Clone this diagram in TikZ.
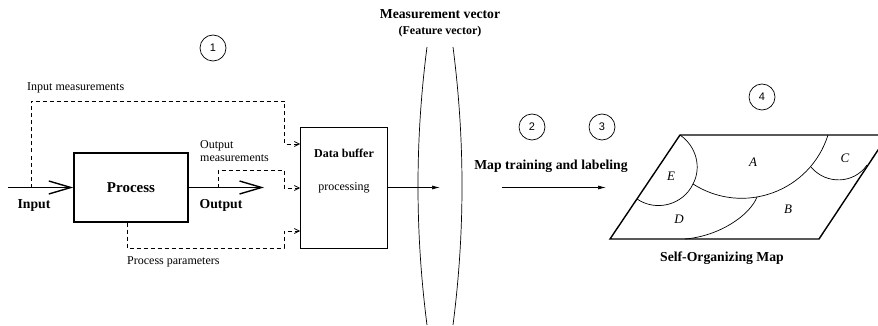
\documentclass[tikz,border=0pt]{standalone}
\usepackage{fontspec}
\setmainfont{Liberation Serif}
\setsansfont{Liberation Sans}
\usepackage{tikz}
\usetikzlibrary{arrows.meta, positioning}

\begin{document}
\begin{tikzpicture}[
    x=1pt, y=-1pt,
    proc node/.style={rectangle,draw,line width=1.4pt,minimum width=114pt,minimum height=69pt,font=\fontsize{15}{17}\selectfont\bfseries},
    buffer node/.style={rectangle,draw,line width=0.9pt,minimum width=87pt,minimum height=121pt},
    stage node/.style={circle,draw,line width=0.7pt,minimum size=26pt,inner sep=0pt,font=\sffamily\fontsize{11}{13}\selectfont},
    text node/.style={inner sep=0pt,font=\fontsize{12}{13}\selectfont},
    bold text/.style={inner sep=0pt,font=\fontsize{12}{13}\selectfont\bfseries},
    title node/.style={inner sep=0pt,font=\fontsize{13.7}{15}\selectfont\bfseries},
    region node/.style={inner sep=0pt,font=\fontsize{13}{15}\selectfont\itshape},
    flow arrow/.style={-{Straight Barb[length=22pt,width=13pt]},line width=1.4pt},
    meas arrow/.style={dash pattern=on 4pt off 3pt,-{Straight Barb[length=5pt,width=5pt]},line width=0.7pt},
    arrow/.style={-{Latex[length=8pt,width=4pt]},line width=0.7pt},
    map edge/.style={line width=1.4pt},
    map line/.style={line width=0.7pt}
]
\useasboundingbox (0,0) rectangle (878,326);

% process and buffer
\node[proc node] (process) at (131,187.5) {Process};
\node[buffer node] (buffer) at (344,187.5) {};
\node[bold text] (buftitle) at (344,153) {Data buffer};
\node[text node] (bufproc) at (344,188) {processing};

\coordinate (input) at (8,187.5);
\coordinate (output) at (264,187.5);
\draw[flow arrow] (input) -- (process);
\draw[flow arrow] (process) -- (output);
\node[title node] (inlabel) at (34,205) {Input};
\node[title node] (outlabel) at (221,205) {Output};

% measurements
\coordinate (inmeas) at (31,187.5);
\coordinate (outmeas) at (218,187.5);
\coordinate (procpar) at ([xshift=-4pt]process.south);
\draw[meas arrow] (inmeas) |- (284,101) |- (buffer.west |- 0,144);
\draw[meas arrow] (outmeas) |- (284,170) |- (buffer.west |- 0,188);
\draw[meas arrow] (procpar) |- (284,248) |- (buffer.west |- 0,231);
\node[text node,anchor=west] (inmeaslabel) at (27,88) {Input measurements};
\node[text node,anchor=west,align=left] (outmeaslabel) at (200,151.5) {Output\\measurements};
\node[text node,anchor=west] (parlabel) at (127,262) {Process parameters};

% feature vector
\draw[map line] (427,47) .. controls (415,140) and (415,232) .. (427,325);
\draw[map line] (453,47) .. controls (465,140) and (465,232) .. (453,325);
\coordinate (vector) at (440,187.5);
\draw[arrow] (buffer) -- (vector);
\node[title node] (mvtitle) at (440,14) {Measurement vector};
\node[bold text] (fvtitle) at (440,32) {(Feature vector)};

% stages
\node[stage node] (s1) at (213,48) {1};
\node[stage node] (s2) at (532,127) {2};
\node[stage node] (s3) at (602,127) {3};
\node[stage node] (s4) at (762,97) {4};

% training
\node[title node] (trainlabel) at (551,166) {Map training and labeling};
\coordinate (trainstart) at (502,187.5);
\coordinate (trainend) at (606,187.5);
\draw[arrow] (trainstart) -- (trainend);

% self-organizing map
\coordinate (tl) at (680,135);
\coordinate (tr) at (888,135);
\coordinate (br) at (819,239);
\coordinate (bl) at (610,239);
\draw[map edge] (tl) -- (tr) -- (br) -- (bl) -- cycle;

\coordinate (ea) at (693,184);
\coordinate (ed) at (637,199);
\coordinate (ab) at (757,197);
\coordinate (ac) at (811,167);
\coordinate (atop) at (828,135);
\coordinate (cr) at (867,165);
\coordinate (db) at (685,239);
\draw[map line] (tl) .. controls (696,146) and (702,167) .. (ea) .. controls (683,205) and (656,212) .. (ed);
\draw[map line] (ea) .. controls (743,216) and (810,192) .. (atop);
\draw[map line] (ac) .. controls (826,185) and (854,184) .. (cr);
\draw[map line] (ab) .. controls (750,215) and (720,236) .. (db);

\node[region node] (ra) at (753,162) {A};
\node[region node] (rb) at (788,209) {B};
\node[region node] (rc) at (845,158) {C};
\node[region node] (rd) at (679,219) {D};
\node[region node] (re) at (671,176) {E};
\node[title node] (somlabel) at (722,258) {Self-Organizing Map};

\end{tikzpicture}
\end{document}
